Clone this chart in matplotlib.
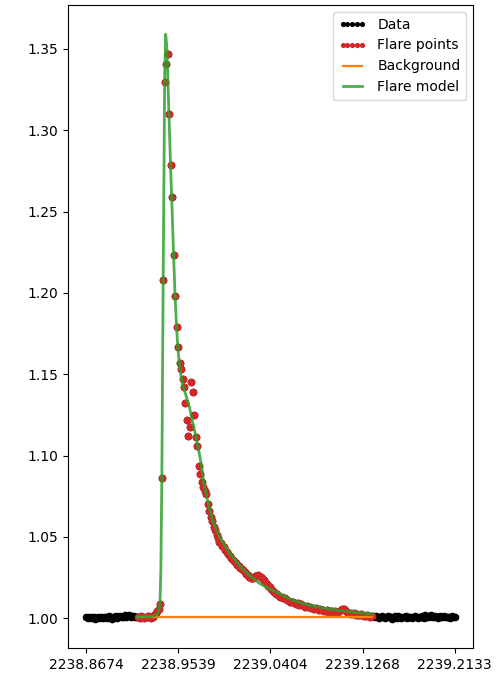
import numpy as np
import matplotlib
matplotlib.use("Agg")
import matplotlib.pyplot as plt

# Light curve: 2-min cadence, start time (days)
t_start = 2238.86744
cadence = 2.0 / 1440.0

# Quiescent points before the flare
pre_flux = [1.0007, 1.0003, 1.0009, 1.0001, 1.0006, 1.0011, 0.9998, 1.0004, 1.0008, 1.0002,
            1.0010, 0.9999, 1.0005, 1.0007, 1.0001, 1.0012, 1.0004, 0.9997, 1.0008, 1.0006,
            1.0013, 1.0003, 1.0009, 1.0015, 1.0007, 1.0011, 1.0019, 1.0008, 1.0014, 1.0021,
            1.0010, 1.0016, 1.0012, 1.0006, 1.0011]

# Points flagged as flare
flare_flux = [1.0009, 1.0004, 1.0012, 1.0007, 1.0002, 1.0010, 1.0005, 1.0013, 1.0008, 1.0004,
              1.0011, 1.0018, 1.0030, 1.0042, 1.0060,
              1.0090, 1.0860, 1.2080, 1.3295, 1.3410, 1.3470, 1.3100, 1.2785, 1.2590, 1.2230,
              1.1980, 1.1790, 1.1670, 1.1570, 1.1530, 1.1470, 1.1420, 1.1323, 1.1219, 1.1120,
              1.1177, 1.1454, 1.1393, 1.1249, 1.1117, 1.1056, 1.0937, 1.0885, 1.0840,
              1.0810, 1.0780, 1.0765, 1.0700, 1.0660, 1.0625, 1.0600, 1.0560, 1.0540, 1.0510,
              1.0495, 1.0470, 1.0460, 1.0445, 1.0440, 1.0420, 1.0405, 1.0395, 1.0380, 1.0372,
              1.0360, 1.0350, 1.0342, 1.0330, 1.0322, 1.0310, 1.0302, 1.0298, 1.0283, 1.0272,
              1.0268, 1.0255, 1.0250, 1.0245, 1.0250, 1.0258, 1.0262, 1.0266, 1.0262, 1.0255,
              1.0245, 1.0236, 1.0225, 1.0212, 1.0200, 1.0190, 1.0180, 1.0170, 1.0162, 1.0152,
              1.0150, 1.0140, 1.0133, 1.0128, 1.0122, 1.0127, 1.0118, 1.0112, 1.0108, 1.0102,
              1.0098, 1.0100, 1.0092, 1.0088, 1.0091, 1.0082, 1.0087, 1.0080, 1.0077, 1.0072,
              1.0078, 1.0070, 1.0068, 1.0062, 1.0066, 1.0058, 1.0061, 1.0055, 1.0050, 1.0057,
              1.0049, 1.0052, 1.0046, 1.0042, 1.0048, 1.0040, 1.0043, 1.0047, 1.0039, 1.0042,
              1.0033, 1.0040, 1.0044, 1.0048, 1.0055, 1.0060, 1.0052, 1.0040, 1.0032, 1.0029,
              1.0034, 1.0024, 1.0030, 1.0022, 1.0027, 1.0019, 1.0023, 1.0028, 1.0020, 1.0017,
              1.0012, 1.0019, 1.0015, 1.0010, 1.0016]

# Quiescent points after the flare
post_flux = [1.0012, 1.0006, 1.0015, 1.0009, 1.0003, 1.0011, 1.0017, 1.0008, 1.0001, 1.0010,
             1.0014, 1.0005, 1.0009, 0.9998, 1.0007, 1.0012, 1.0004, 1.0016, 1.0008, 1.0002,
             1.0010, 1.0006, 1.0013, 0.9999, 1.0007, 1.0011, 1.0003, 1.0009, 1.0015, 1.0005,
             1.0001, 1.0010, 1.0007, 1.0013, 1.0004, 1.0018, 1.0009, 1.0006, 1.0012, 1.0020,
             1.0011, 1.0007, 1.0015, 1.0009, 1.0003, 1.0012, 1.0008, 1.0005, 1.0014, 1.0010,
             1.0006, 1.0011, 1.0004, 1.0013, 1.0008, 1.0010]

background_level = 1.0006

# Fitted flare model (time, relative flux)
model_time = [2238.9153, 2238.9266, 2238.9313, 2238.9332, 2238.9351, 2238.9365, 2238.9374,
              2238.9383, 2238.9397, 2238.9410, 2238.9419, 2238.9429, 2238.9438, 2238.9452,
              2238.9465, 2238.9480, 2238.9494, 2238.9508, 2238.9522, 2238.9535, 2238.9549,
              2238.9563, 2238.9577, 2238.9590, 2238.9605, 2238.9623, 2238.9642, 2238.9670,
              2238.9699, 2238.9727, 2238.9755, 2238.9783, 2238.9811, 2238.9858, 2238.9924,
              2239.0018, 2239.0131, 2239.0206, 2239.0300, 2239.0394, 2239.0488, 2239.0610,
              2239.0770, 2239.0930, 2239.1080, 2239.1240, 2239.1362]
model_flux = [1.0008, 1.0010, 1.0015, 1.0020, 1.0040, 1.0080, 1.0300,
              1.0860, 1.2200, 1.3350, 1.3590, 1.3520, 1.3350, 1.3050,
              1.2780, 1.2500, 1.2220, 1.1970, 1.1780, 1.1650, 1.1560,
              1.1490, 1.1440, 1.1410, 1.1380, 1.1340, 1.1300, 1.1210,
              1.1130, 1.1040, 1.0940, 1.0810, 1.0730, 1.0605, 1.0500,
              1.0400, 1.0310, 1.0265, 1.0215, 1.0180, 1.0152, 1.0111,
              1.0080, 1.0060, 1.0046, 1.0034, 1.0026]

flux = np.array(pre_flux + flare_flux + post_flux)
time = t_start + cadence * np.arange(len(flux))
i0 = len(pre_flux)
i1 = i0 + len(flare_flux)

fig = plt.figure(figsize=(4.98, 6.76), dpi=100)
ax = fig.add_axes([0.1365, 0.0414, 0.8133, 0.9512])

ax.plot(time, flux, '.', color='k', markersize=9, label='Data')
ax.plot(time[i0:i1], flux[i0:i1], '.', color='tab:red', markersize=9, label='Flare points')
ax.plot([time[i0], time[i1 - 1]], [background_level, background_level],
        color='tab:orange', lw=1.6, label='Background')
ax.plot(model_time, model_flux, color='tab:green', lw=2.0, alpha=0.85, label='Flare model')

ticks = np.linspace(time.min(), time.max(), 5)
ax.set_xticks(ticks)
ax.set_xticklabels(['%.4f' % v for v in ticks])

ax.legend(loc='upper right', numpoints=5, markerscale=0.6)

fig.savefig('out.png', dpi=100)
